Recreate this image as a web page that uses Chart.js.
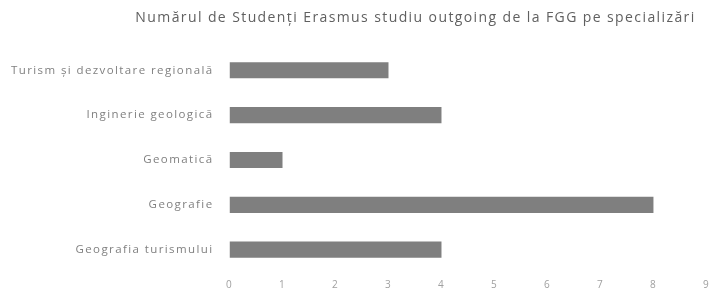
<!DOCTYPE html>
<html>
<head>
<meta charset="utf-8">
<script src="https://cdn.jsdelivr.net/npm/chart.js@4"></script>
<style>
    body { margin: 0; background: #fff; }
    #wrap { width: 717px; height: 295px; }
</style>
</head>
<body>
<div id="wrap"><canvas id="myChart" width="717" height="295"></canvas></div>
<script>
// categories and values
const specializari = ['Turism și dezvoltare regională', 'Inginerie geologică', 'Geomatică', 'Geografie', 'Geografia turismului'];
const nrStudenti = [3, 4, 1, 8, 4];
const tickMax = 9;

// the original text is spaced out a bit, so widen the letters on the canvas
// and push the title a little to the right like in the picture
const textTweaks = {
    id: 'textTweaks',
    beforeUpdate(chart) { chart.ctx.letterSpacing = '1.4px'; },
    afterLayout(chart) { chart.titleBlock.left = 122; },
    beforeDraw(chart) { chart.ctx.letterSpacing = '1.4px'; }
};

const ctx = document.getElementById('myChart');

mychartView = new Chart(ctx, {
    type: 'bar',
    data: {
        labels: specializari,
        datasets: [{
            label: 'Studenți',
            data: nrStudenti,
            backgroundColor: '#7f7f7f',
            barPercentage: 0.72,
            categoryPercentage: 0.5
        }]
    },
    options: {
        indexAxis: 'y',
        responsive: false,
        animation: false,
        layout: { padding: { left: -5, right: 8, top: 0, bottom: -4 } },
        plugins: {
            legend: { display: false },
            tooltip: { enabled: false },
            title: {
                display: true,
                text: 'Numărul de Studenți Erasmus studiu outgoing de la FGG pe specializări',
                color: '#606060',
                font: { family: 'Open Sans', size: 14, weight: 'normal' },
                padding: { top: 10, bottom: 21 }
            }
        },
        scales: {
            x: {
                min: 0,
                max: tickMax,
                ticks: { stepSize: 1, color: '#a0a0a0', font: { family: 'Open Sans', size: 10 }, padding: 7 },
                grid: { display: false, drawTicks: false },
                border: { display: false }
            },
            y: {
                ticks: { color: '#808080', font: { family: 'Open Sans', size: 11.5 }, padding: 16 },
                grid: { display: false, drawTicks: false },
                border: { display: false }
            }
        }
    },
    plugins: [textTweaks]
});
</script>
</body>
</html>
